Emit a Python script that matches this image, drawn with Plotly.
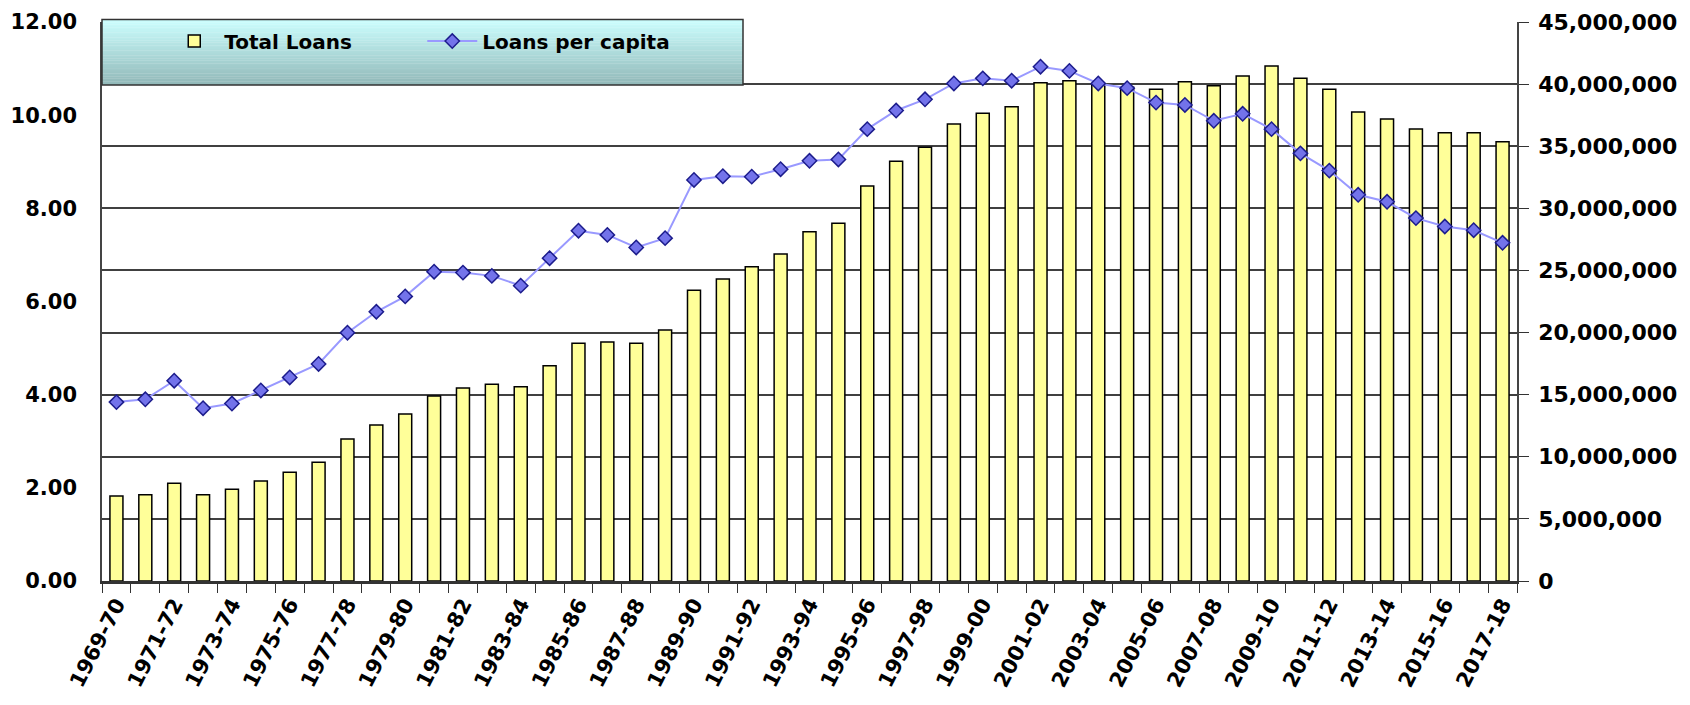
import plotly.graph_objects as go

# ---------------- data ----------------
years = [f"{y}-{str(y + 1)[-2:]}" for y in range(1969, 2018)]
tick_labels = [lab if i % 2 == 0 else "" for i, lab in enumerate(years)]

total_loans = [
    6.84e6, 6.95e6, 7.86e6, 6.95e6, 7.38e6, 8.05e6, 8.75e6, 9.55e6, 11.43e6, 12.56e6,
    13.44e6, 14.89e6, 15.54e6, 15.83e6, 15.64e6, 17.33e6, 19.13e6, 19.24e6, 19.13e6, 20.20e6,
    23.40e6, 24.31e6, 25.30e6, 26.32e6, 28.12e6, 28.79e6, 31.80e6, 33.79e6, 34.91e6, 36.79e6,
    37.65e6, 38.18e6, 40.11e6, 40.28e6, 39.95e6, 39.74e6, 39.58e6, 40.20e6, 39.87e6, 40.65e6,
    41.46e6, 40.47e6, 39.58e6, 37.75e6, 37.19e6, 36.38e6, 36.09e6, 36.09e6, 35.36e6,
]

loans_per_capita = [
    3.84, 3.90, 4.30, 3.71, 3.81, 4.09, 4.37, 4.66, 5.33, 5.78,
    6.11, 6.64, 6.62, 6.55, 6.34, 6.93, 7.52, 7.43, 7.16, 7.36,
    8.61, 8.69, 8.68, 8.84, 9.02, 9.05, 9.70, 10.10, 10.34, 10.68,
    10.79, 10.74, 11.04, 10.95, 10.68, 10.58, 10.27, 10.22, 9.88, 10.03,
    9.70, 9.18, 8.81, 8.29, 8.14, 7.79, 7.61, 7.53, 7.26,
]

right_ticks = list(range(0, 45000001, 5000000))
left_ticks = [0, 2, 4, 6, 8, 10, 12]

FONT = "DejaVu Sans"

fig = go.Figure()

fig.add_trace(go.Bar(
    x=years, y=total_loans, name="Total Loans", yaxis="y",
    marker=dict(color="#ffff99", line=dict(color="black", width=1.5)),
    width=0.45,
))

fig.add_trace(go.Scatter(
    x=years, y=loans_per_capita, name="Loans per capita", yaxis="y2",
    mode="lines+markers",
    line=dict(color="#9999ff", width=2),
    marker=dict(symbol="diamond", size=11, color="#7373ea",
                line=dict(color="#1c1c8c", width=1.5)),
))

# legend background gradient (drawn as thin strips)
shapes = []
x0p, x1p = 0.0, (743 - 102) / 1415
ytop, ybot = (581 - 19.5) / 559, (581 - 85) / 559
n = 40
c_top = (204, 255, 255)
c_bot = (145, 184, 184)
for k in range(n):
    t = (k + 0.5) / n
    c = tuple(int(round(c_top[j] + (c_bot[j] - c_top[j]) * t)) for j in range(3))
    ya = ytop - (ytop - ybot) * k / n
    yb = ytop - (ytop - ybot) * (k + 1) / n
    shapes.append(dict(type="rect", xref="paper", yref="paper", x0=x0p, x1=x1p,
                       y0=yb, y1=ya + 0.0005, fillcolor=f"rgb{c}", line=dict(width=0),
                       layer="above"))
shapes.append(dict(type="rect", xref="paper", yref="paper", x0=x0p, x1=x1p,
                   y0=ybot, y1=ytop, fillcolor="rgba(0,0,0,0)",
                   line=dict(color="#333333", width=1.5), layer="above"))

# the page body adds an 8px margin, so the figure is sized/offset to compensate
fig.update_layout(
    width=1682, height=697,
    margin=dict(l=94, r=173, t=14, b=124, pad=0),
    paper_bgcolor="white", plot_bgcolor="white",
    font=dict(family=FONT, color="black"),
    bargap=0.55,
    shapes=shapes,
    showlegend=True,
    legend=dict(
        orientation="h", x=0.044, xanchor="left", y=0.966, yanchor="middle",
        bgcolor="rgba(0,0,0,0)", borderwidth=0,
        font=dict(family=FONT, size=20, color="black", weight="bold"),
        itemwidth=50, traceorder="normal",
        entrywidth=193, entrywidthmode="pixels",
    ),
    xaxis=dict(
        type="category", range=[-0.5, len(years) - 0.5], automargin=False,
        tickmode="array", tickvals=years, ticktext=tick_labels,
        tickangle=-63, tickson="boundaries",
        ticks="outside", ticklen=9, tickwidth=1.3, tickcolor="#333333",
        showline=True, linecolor="#333333", linewidth=2.5,
        showgrid=False, zeroline=False,
        tickfont=dict(family=FONT, size=21, color="black", weight="bold"),
    ),
    yaxis=dict(
        side="right", range=[0, 45000000], automargin=False,
        tickmode="array", tickvals=right_ticks, tickformat=",d",
        ticks="outside", ticklen=10, tickwidth=1.3, tickcolor="#333333",
        showline=True, linecolor="#444444", linewidth=1.5,
        showgrid=True, gridcolor="#404040", gridwidth=1.5,
        zeroline=False, ticklabelstandoff=5,
        tickfont=dict(family=FONT, size=22, color="black", weight="bold"),
    ),
    yaxis2=dict(
        overlaying="y", side="left", range=[0, 12], automargin=False,
        tickmode="array", tickvals=left_ticks, tickformat=".2f",
        ticks="", showline=True, linecolor="#444444", linewidth=1.5,
        showgrid=False, zeroline=False, ticklabelstandoff=19,
        tickfont=dict(family=FONT, size=21, color="black", weight="bold"),
    ),
)

fig.write_html("out.html")
